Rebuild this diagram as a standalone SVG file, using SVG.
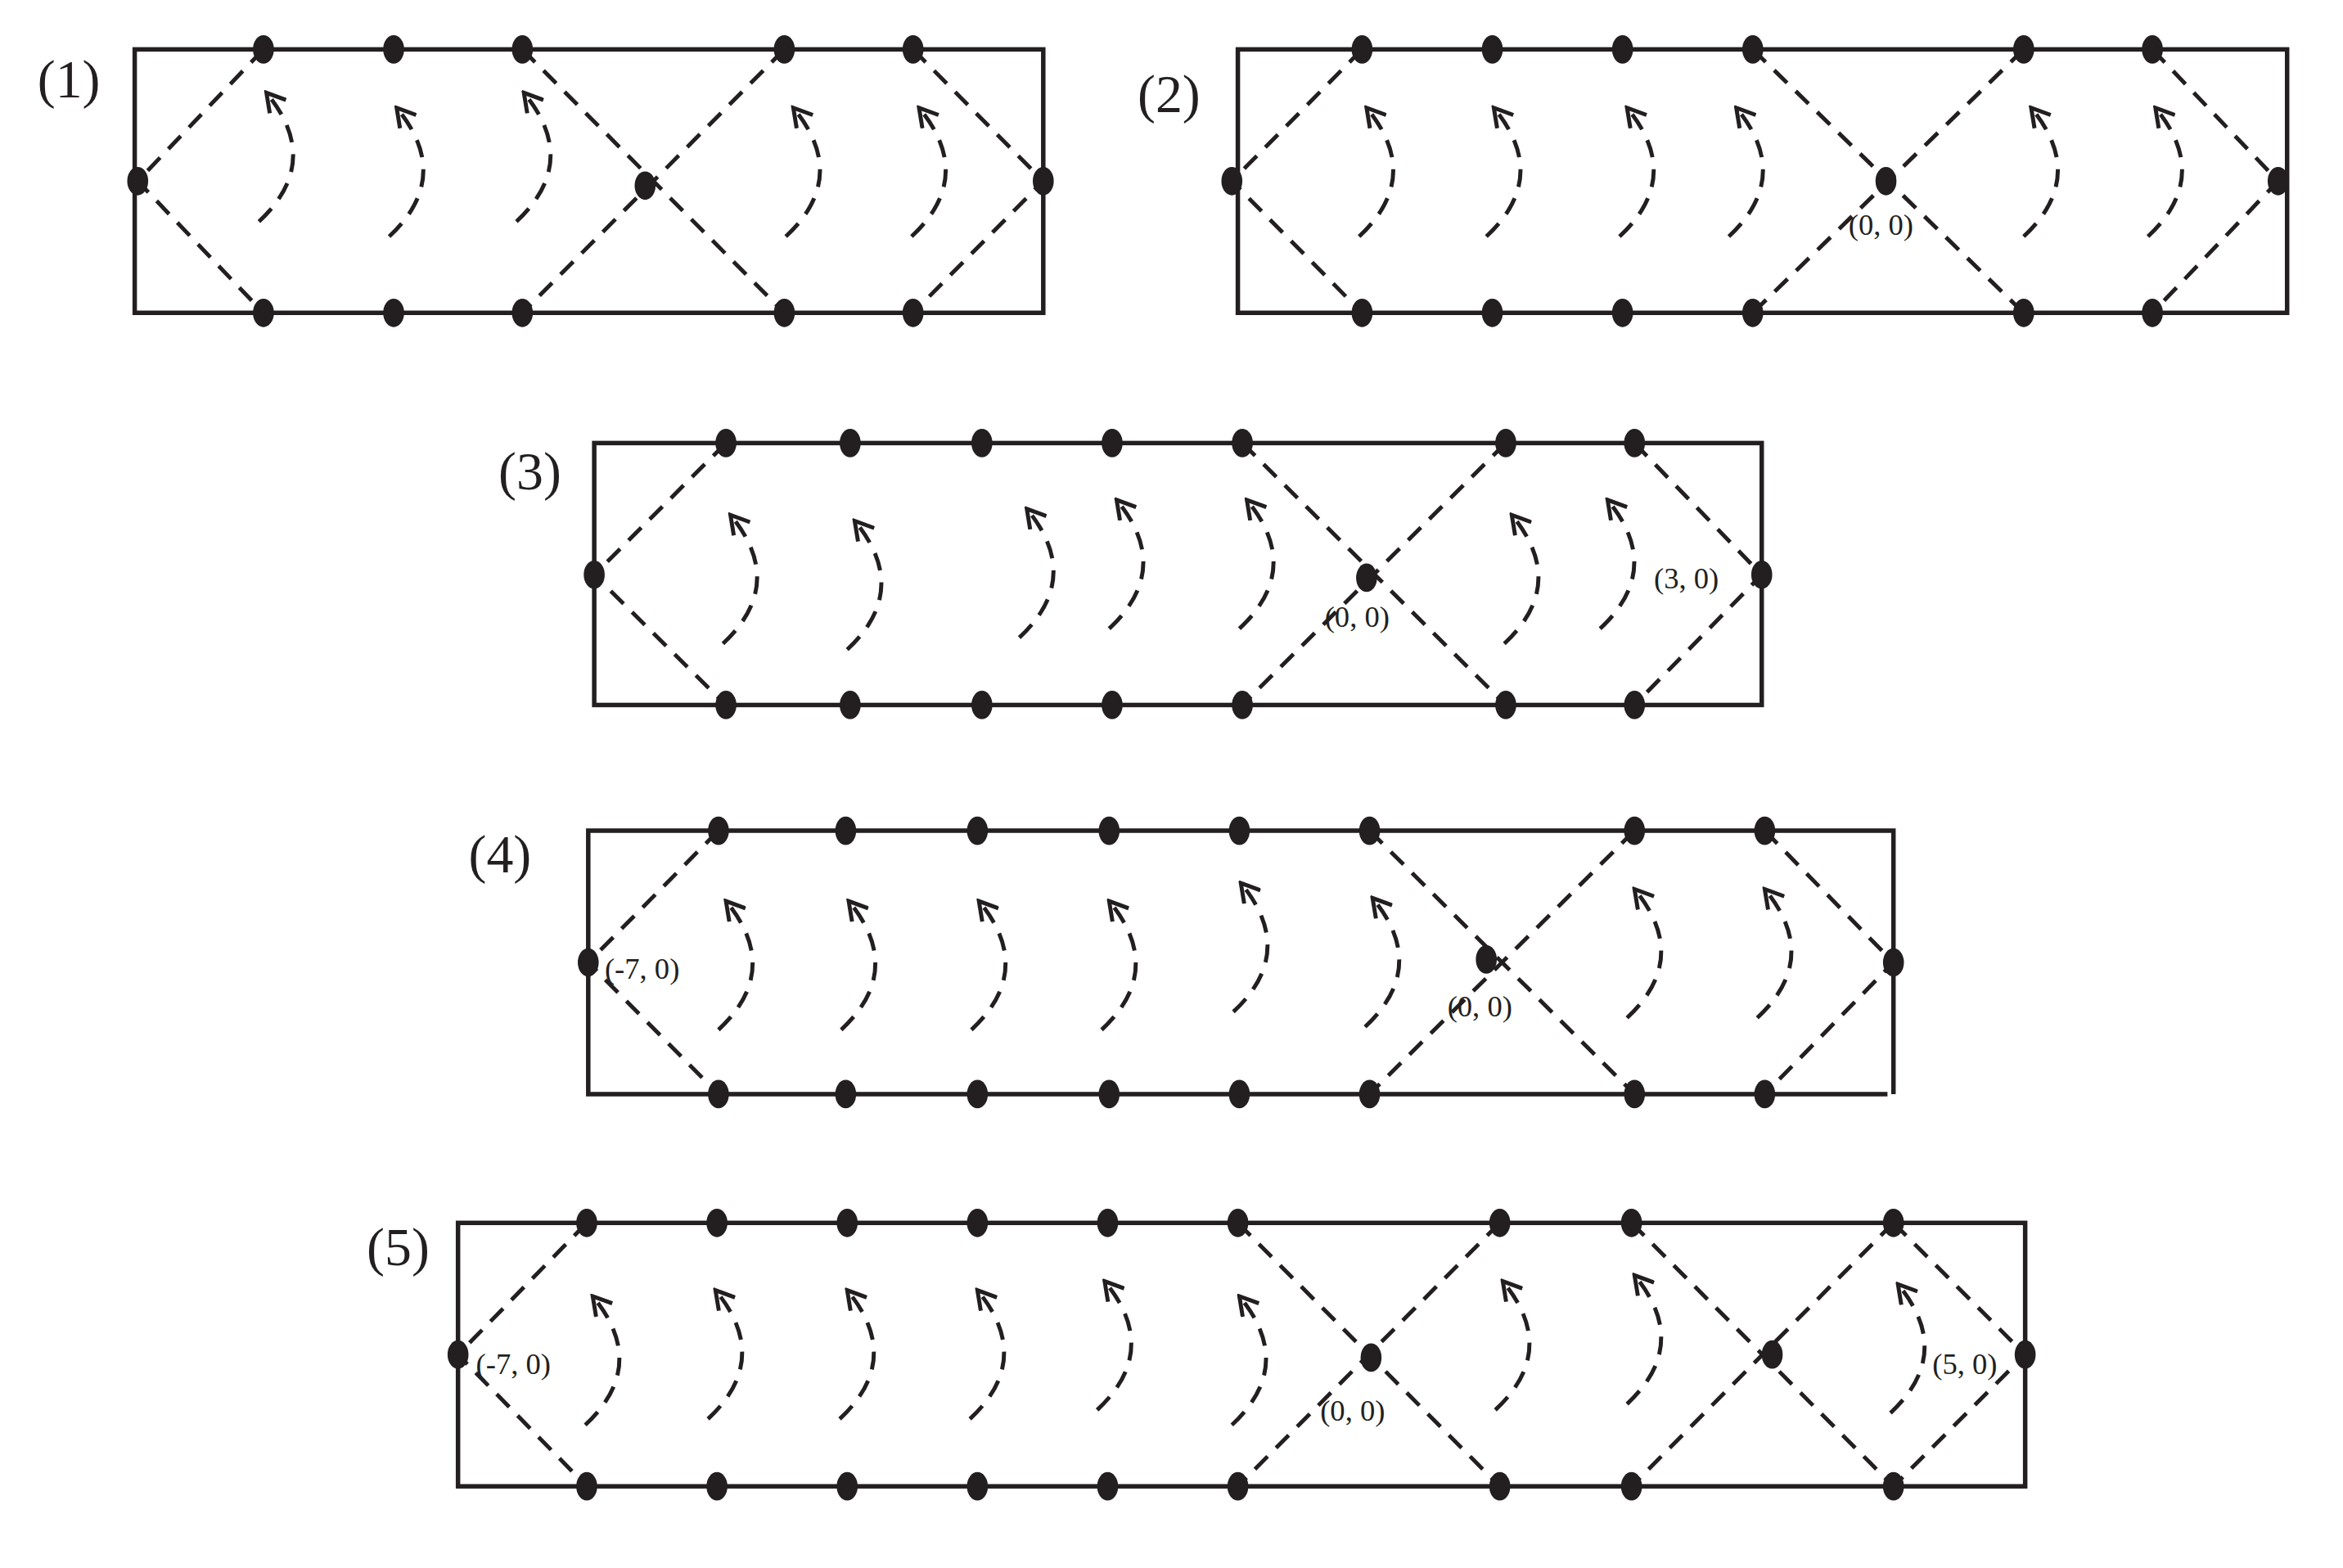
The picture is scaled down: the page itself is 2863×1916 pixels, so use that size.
<svg xmlns="http://www.w3.org/2000/svg" xmlns:xlink="http://www.w3.org/1999/xlink" width="2863" height="1916" viewBox="0 0 2863 1916">
<style>
.box{fill:none;stroke:#231f20;stroke-width:3}
.dl{fill:none;stroke:#231f20;stroke-width:2.7;stroke-dasharray:12 8}
.dot{fill:#231f20}
.lbl{font-family:"Liberation Serif",serif;font-size:36px;fill:#231f20}
.co{font-family:"Liberation Serif",serif;font-size:20px;fill:#231f20}
</style>
<defs>
<marker id="ah" markerWidth="16" markerHeight="16" refX="14" refY="8" orient="auto" markerUnits="userSpaceOnUse" viewBox="0 0 16 16"><path d="M2,1 L14,8 L2,15" fill="none" stroke="#231f20" stroke-width="2.7"/></marker>
<path id="arc" d="M -5,86 Q 38,46 0,0" class="dl" marker-end="url(#ah)"/>
<ellipse id="d" rx="7" ry="9.5" class="dot"/>
</defs>
<rect width="2863" height="1916" fill="#fff"/>
<g transform="scale(1.829)">
<g id="panel1">
<rect class="box" x="90" y="33" width="607" height="176"/>
<text class="lbl" x="25" y="65">(1)</text>
<g id="conn1">
<polyline class="dl" points="176,33 92,121 176,209"/>
<line class="dl" x1="349" y1="33" x2="524" y2="209"/>
<line class="dl" x1="524" y1="33" x2="349" y2="209"/>
<polyline class="dl" points="610,33 697,121 610,209"/>
<use xlink:href="#arc" x="178" y="62"/><use xlink:href="#arc" x="265" y="72"/><use xlink:href="#arc" x="350" y="62"/><use xlink:href="#arc" x="530" y="72"/><use xlink:href="#arc" x="614" y="72"/>
</g>
<g id="dots1">
<use xlink:href="#d" x="176" y="33"/><use xlink:href="#d" x="263" y="33"/><use xlink:href="#d" x="349" y="33"/><use xlink:href="#d" x="524" y="33"/><use xlink:href="#d" x="610" y="33"/>
<use xlink:href="#d" x="176" y="209"/><use xlink:href="#d" x="263" y="209"/><use xlink:href="#d" x="349" y="209"/><use xlink:href="#d" x="524" y="209"/><use xlink:href="#d" x="610" y="209"/>
<use xlink:href="#d" x="92" y="121"/><use xlink:href="#d" x="697" y="121"/><use xlink:href="#d" x="431" y="124"/>
</g>
</g>
<g id="panel2">
<rect class="box" x="827" y="33" width="701" height="176"/>
<text class="lbl" x="760" y="75">(2)</text>
<text class="co" x="1235" y="157">(0, 0)</text>
<g id="conn2">
<polyline class="dl" points="910,33 823,121 910,209"/>
<line class="dl" x1="1171" y1="33" x2="1352" y2="209"/>
<line class="dl" x1="1352" y1="33" x2="1171" y2="209"/>
<polyline class="dl" points="1438,33 1522,121 1438,209"/>
<use xlink:href="#arc" x="913" y="72"/><use xlink:href="#arc" x="998" y="72"/><use xlink:href="#arc" x="1087" y="72"/><use xlink:href="#arc" x="1160" y="72"/><use xlink:href="#arc" x="1357" y="72"/><use xlink:href="#arc" x="1440" y="72"/>
</g>
<g id="dots2">
<use xlink:href="#d" x="910" y="33"/><use xlink:href="#d" x="997" y="33"/><use xlink:href="#d" x="1084" y="33"/><use xlink:href="#d" x="1171" y="33"/><use xlink:href="#d" x="1352" y="33"/><use xlink:href="#d" x="1438" y="33"/>
<use xlink:href="#d" x="910" y="209"/><use xlink:href="#d" x="997" y="209"/><use xlink:href="#d" x="1084" y="209"/><use xlink:href="#d" x="1171" y="209"/><use xlink:href="#d" x="1352" y="209"/><use xlink:href="#d" x="1438" y="209"/>
<use xlink:href="#d" x="823" y="121"/><use xlink:href="#d" x="1522" y="121"/><use xlink:href="#d" x="1260" y="121"/>
</g>
</g>
<g id="panel3">
<rect class="box" x="397" y="296" width="780" height="175"/>
<text class="lbl" x="333" y="327">(3)</text>
<text class="co" x="885" y="419">(0, 0)</text>
<text class="co" x="1105" y="393">(3, 0)</text>
<g id="conn3">
<polyline class="dl" points="485,296 397,384 485,471"/>
<line class="dl" x1="830" y1="296" x2="1006" y2="471"/>
<line class="dl" x1="1006" y1="296" x2="830" y2="471"/>
<polyline class="dl" points="1092,296 1177,384 1092,471"/>
<use xlink:href="#arc" x="488" y="344"/><use xlink:href="#arc" x="571" y="348"/><use xlink:href="#arc" x="686" y="340"/><use xlink:href="#arc" x="746" y="334"/><use xlink:href="#arc" x="833" y="334"/><use xlink:href="#arc" x="1010" y="344"/><use xlink:href="#arc" x="1074" y="334"/>
</g>
<g id="dots3">
<use xlink:href="#d" x="485" y="296"/><use xlink:href="#d" x="568" y="296"/><use xlink:href="#d" x="656" y="296"/><use xlink:href="#d" x="743" y="296"/><use xlink:href="#d" x="830" y="296"/><use xlink:href="#d" x="1006" y="296"/><use xlink:href="#d" x="1092" y="296"/>
<use xlink:href="#d" x="485" y="471"/><use xlink:href="#d" x="568" y="471"/><use xlink:href="#d" x="656" y="471"/><use xlink:href="#d" x="743" y="471"/><use xlink:href="#d" x="830" y="471"/><use xlink:href="#d" x="1006" y="471"/><use xlink:href="#d" x="1092" y="471"/>
<use xlink:href="#d" x="397" y="384"/><use xlink:href="#d" x="1177" y="384"/><use xlink:href="#d" x="913" y="386"/>
</g>
</g>
<g id="panel4">
<polyline class="box" points="1261,731 393,731 393,555 1265,555 1265,731"/>
<text class="lbl" x="313" y="583">(4)</text>
<text class="co" x="404" y="654">(-7, 0)</text>
<text class="co" x="967" y="679">(0, 0)</text>
<g id="conn4">
<polyline class="dl" points="480,555 393,643 480,731"/>
<line class="dl" x1="915" y1="555" x2="1092" y2="731"/>
<line class="dl" x1="1092" y1="555" x2="915" y2="731"/>
<polyline class="dl" points="1179,555 1265,643 1179,731"/>
<use xlink:href="#arc" x="485" y="602"/><use xlink:href="#arc" x="567" y="602"/><use xlink:href="#arc" x="654" y="602"/><use xlink:href="#arc" x="741" y="602"/><use xlink:href="#arc" x="829" y="590"/><use xlink:href="#arc" x="917" y="600"/><use xlink:href="#arc" x="1092" y="594"/><use xlink:href="#arc" x="1179" y="594"/>
</g>
<g id="dots4">
<use xlink:href="#d" x="480" y="555"/><use xlink:href="#d" x="565" y="555"/><use xlink:href="#d" x="653" y="555"/><use xlink:href="#d" x="741" y="555"/><use xlink:href="#d" x="828" y="555"/><use xlink:href="#d" x="915" y="555"/><use xlink:href="#d" x="1092" y="555"/><use xlink:href="#d" x="1179" y="555"/>
<use xlink:href="#d" x="480" y="731"/><use xlink:href="#d" x="565" y="731"/><use xlink:href="#d" x="653" y="731"/><use xlink:href="#d" x="741" y="731"/><use xlink:href="#d" x="828" y="731"/><use xlink:href="#d" x="915" y="731"/><use xlink:href="#d" x="1092" y="731"/><use xlink:href="#d" x="1179" y="731"/>
<use xlink:href="#d" x="393" y="643"/><use xlink:href="#d" x="1265" y="643"/><use xlink:href="#d" x="993" y="641"/>
</g>
</g>
<g id="panel5">
<rect class="box" x="306" y="817" width="1047" height="176"/>
<text class="lbl" x="245" y="845">(5)</text>
<text class="co" x="318" y="918">(-7, 0)</text>
<text class="co" x="882" y="949">(0, 0)</text>
<text class="co" x="1291" y="918">(5, 0)</text>
<g id="conn5">
<polyline class="dl" points="392,817 306,905 392,993"/>
<line class="dl" x1="827" y1="817" x2="1002" y2="993"/>
<line class="dl" x1="1002" y1="817" x2="827" y2="993"/>
<line class="dl" x1="1090" y1="817" x2="1265" y2="993"/>
<line class="dl" x1="1265" y1="817" x2="1090" y2="993"/>
<polyline class="dl" points="1265,817 1353,905 1265,993"/>
<use xlink:href="#arc" x="396" y="866"/><use xlink:href="#arc" x="478" y="862"/><use xlink:href="#arc" x="566" y="862"/><use xlink:href="#arc" x="653" y="862"/><use xlink:href="#arc" x="738" y="856"/><use xlink:href="#arc" x="828" y="866"/><use xlink:href="#arc" x="1004" y="856"/><use xlink:href="#arc" x="1092" y="852"/><use xlink:href="#arc" x="1268" y="858"/>
</g>
<g id="dots5">
<use xlink:href="#d" x="392" y="817"/><use xlink:href="#d" x="479" y="817"/><use xlink:href="#d" x="566" y="817"/><use xlink:href="#d" x="653" y="817"/><use xlink:href="#d" x="740" y="817"/><use xlink:href="#d" x="827" y="817"/><use xlink:href="#d" x="1002" y="817"/><use xlink:href="#d" x="1090" y="817"/><use xlink:href="#d" x="1265" y="817"/>
<use xlink:href="#d" x="392" y="993"/><use xlink:href="#d" x="479" y="993"/><use xlink:href="#d" x="566" y="993"/><use xlink:href="#d" x="653" y="993"/><use xlink:href="#d" x="740" y="993"/><use xlink:href="#d" x="827" y="993"/><use xlink:href="#d" x="1002" y="993"/><use xlink:href="#d" x="1090" y="993"/><use xlink:href="#d" x="1265" y="993"/>
<use xlink:href="#d" x="306" y="905"/><use xlink:href="#d" x="1353" y="905"/><use xlink:href="#d" x="916" y="907"/><use xlink:href="#d" x="1184" y="905"/>
</g>
</g>
</g>
</svg>
